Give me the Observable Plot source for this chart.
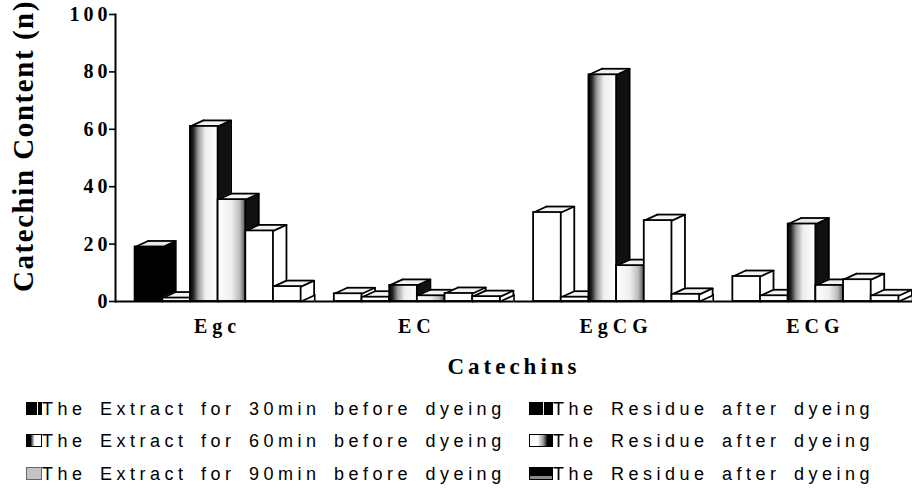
<!DOCTYPE html>
<html>
<head>
<meta charset="utf-8">
<script src="https://cdn.jsdelivr.net/npm/d3@7"></script>
<script src="https://cdn.jsdelivr.net/npm/@observablehq/plot@0.6"></script>
<style>
  html, body { margin: 0; padding: 0; background: #fff; }
  #wrap { position: relative; width: 912px; height: 493px; overflow: hidden; }
  #chart svg { display: block; background: #fff; }
  g[aria-label="y-axis tick label"] text { font-family: "Liberation Serif", serif; font-weight: bold; font-size: 20px; letter-spacing: 4px; fill: #000; }
  g[aria-label="text"] text { letter-spacing: 1.55px; }
  g[aria-label="fx-axis tick label"] text { font-family: "Liberation Serif", serif; font-weight: bold; font-size: 20px; letter-spacing: 5px; fill: #000; }
  g[aria-label="fx-axis label"] text { font-family: "Liberation Serif", serif; font-weight: bold; font-size: 23px; letter-spacing: 4px; fill: #000; }
  .legend { position: absolute; left: 0; top: 393px; width: 912px; font-family: "Liberation Sans", Arial, sans-serif; font-size: 18px; letter-spacing: 4.5px; word-spacing: 4px; color: #000; }
  .row { position: relative; height: 32.3px; line-height: 32.3px; white-space: nowrap; }
  .item { position: absolute; top: 0; }
  .sw { display: inline-block; height: 13px; vertical-align: baseline; margin-right: 0; box-sizing: border-box; }
</style>
</head>
<body>
<div id="wrap">
  <div id="chart"></div>
  <div class="legend" id="legend"></div>
</div>
<script>
// ---- data ----
const categories = ["Egc", "EC", "EgCG", "ECG"];
const seriesKeys = ["E30", "R30", "E60", "R60", "E90", "R90"];
const seriesLabels = [
  "The Extract for 30min before dyeing",
  "The Residue after dyeing",
  "The Extract for 60min before dyeing",
  "The Residue after dyeing",
  "The Extract for 90min before dyeing",
  "The Residue after dyeing"
];
const extract30 = [19, 2.7, 31, 8.7];
const residue30 = [1.2, 1.5, 1.5, 2];
const extract60 = [61, 5.6, 79, 27];
const residue60 = [35.5, 2, 12.5, 5.6];
const extract90 = [24.6, 2.8, 28.2, 7.6];
const residue90 = [5.2, 1.7, 2.5, 2];
const yTicks = [0, 20, 40, 60, 80, 100];
const xLabel = "Catechins";
const yLabel = "Catechin Content (n)";

const seriesValues = [extract30, residue30, extract60, residue60, extract90, residue90];
const rows = [];
categories.forEach((c, i) => {
  seriesKeys.forEach((s, j) => rows.push({cat: c, series: s, value: seriesValues[j][i]}));
});

// ---- styling ----
const W = 912, H = 385, mL = 115, mR = 0, mT = 14, mB = 84;
const depthX = 13, depthY = 6;
const padOuter = 0.6, alignX = 0.59;
const facetW = (W - mL - mR) / categories.length;
const bw = facetW / (seriesKeys.length + 2 * padOuter);
const frontFill = {E30: "#fff", R30: "#fff", E60: "url(#gE60)", R60: "url(#gR60)", E90: "#fff", R90: "#fff"};
const sideFill  = {E30: "#fff", R30: "#fff", E60: "#111", R60: "#111", E90: "#fff", R90: "#fff"};
const solidBars = new Set(["Egc|E30"]); // drawn solid black in the reference
const fFront = d => solidBars.has(d.cat + "|" + d.series) ? "#000" : frontFill[d.series];
const fSide = d => solidBars.has(d.cat + "|" + d.series) ? "#000" : sideFill[d.series];
const stroke = "#000", sw = 1.8, steps = 6;
const edgeShape = {draw(ctx, l) { ctx.moveTo(0, 0); ctx.lineTo(0, -l); }};
const diagAngle = Math.atan2(depthX, depthY) * 180 / Math.PI;
const diagLen = Math.hypot(depthX, depthY);

const marks = [];
for (const s of seriesKeys) {
  const filter = d => d.series === s;
  const base = {filter, fx: "cat", x: "series"};
  for (let k = steps; k >= 0; k--)
    marks.push(Plot.barY(rows, {...base, y: "value", fill: fSide, dx: depthX * k / steps, dy: -depthY * k / steps}));
  for (let k = 0; k <= steps; k++)
    marks.push(Plot.tickY(rows, {...base, y: "value", stroke: "#f3f3f3", strokeWidth: 1.6, dx: depthX * k / steps, dy: -depthY * k / steps}));
  marks.push(Plot.tickY(rows, {...base, y: "value", stroke, strokeWidth: sw, dx: depthX, dy: -depthY}));
  marks.push(Plot.ruleX(rows, {...base, y1: () => 0, y2: "value", stroke, strokeWidth: sw, dx: bw / 2 + depthX, dy: -depthY}));
  marks.push(Plot.vector(rows, {...base, y: "value", length: diagLen, rotate: diagAngle, anchor: "start", shape: edgeShape, stroke, strokeWidth: sw, dx: -bw / 2}));
  marks.push(Plot.vector(rows, {...base, y: "value", length: diagLen, rotate: diagAngle, anchor: "start", shape: edgeShape, stroke, strokeWidth: sw, dx: bw / 2}));
  marks.push(Plot.vector(rows, {...base, y: () => 0, length: diagLen, rotate: diagAngle, anchor: "start", shape: edgeShape, stroke, strokeWidth: sw, dx: bw / 2}));
  marks.push(Plot.barY(rows, {...base, y: "value", fill: fFront, stroke, strokeWidth: sw}));
}

const chart = Plot.plot({
  width: W, height: H,
  marginLeft: mL, marginRight: mR, marginTop: mT, marginBottom: mB,
  fx: {domain: categories, padding: 0, round: false},
  x: {domain: seriesKeys, paddingInner: 0, paddingOuter: padOuter, align: alignX, round: false, axis: null},
  y: {domain: [0, 100]},
  color: {type: "identity"},
  marks: [
    ...marks,
    Plot.ruleY([0], {stroke: "#000", strokeWidth: 2}),
    Plot.frame({anchor: "left", facetAnchor: "left", stroke: "#000", strokeWidth: 2}),
    Plot.axisY({ticks: yTicks, tickSize: 6, tickPadding: -2, tickFormat: d => String(d), strokeWidth: 1.6, label: null}),
    Plot.text([yLabel], {text: d => d, frameAnchor: "left", facetAnchor: "left", textAnchor: "middle", lineAnchor: "middle",
      rotate: -90, dx: -92, dy: -12, fontFamily: "Liberation Serif", fontWeight: "bold", fontSize: 29, fill: "#000"}),
    Plot.axisFx({anchor: "bottom", tickSize: 0, tickPadding: 17, dx: 2.5, label: xLabel, labelAnchor: "center", labelOffset: 72, labelArrow: false}),
    Plot.axisFx({anchor: "bottom", tickSize: 7, dy: -7, dx: facetW / 2, tickFormat: () => "", label: null, strokeWidth: 1.6})
  ]
});

const defs = d3.select(chart).insert("defs", ":first-child");
const g1 = defs.append("linearGradient").attr("id", "gE60");
[[0, "#000"], [0.12, "#222"], [0.3, "#999"], [0.55, "#eee"], [1, "#fff"]].forEach(([o, c]) => g1.append("stop").attr("offset", o).attr("stop-color", c));
const g2 = defs.append("linearGradient").attr("id", "gR60");
[[0, "#fff"], [0.5, "#eee"], [0.8, "#bbb"], [1, "#555"]].forEach(([o, c]) => g2.append("stop").attr("offset", o).attr("stop-color", c));

document.getElementById("chart").appendChild(chart);

// ---- legend (HTML, 3 rows x 2 columns) ----
const swatchStyles = [
  "width:16px;background:linear-gradient(to right,#000 0 68%,#fff 68% 76%,#000 76%);",
  "width:24px;background:linear-gradient(to right,#000 0 60%,#eee 60% 64%,#000 64%);",
  "width:16px;border:1.5px solid #000;background:linear-gradient(to right,#000 0 25%,#777 38%,#fff 55%);",
  "width:24px;border:1.5px solid #000;background:linear-gradient(to right,#fff 0 35%,#999 60%,#000 80%);",
  "width:16px;border:1px solid #666;background:#c4c4c4;",
  "width:24px;border:1.5px solid #000;background:linear-gradient(to bottom,#000 0 75%,#888 75%);"
];
const leftX = [26, 529];
const legend = d3.select("#legend");
for (let r = 0; r < 3; r++) {
  const row = legend.append("div").attr("class", "row");
  for (let c = 0; c < 2; c++) {
    const idx = r * 2 + c;
    const item = row.append("span").attr("class", "item").style("left", leftX[c] + "px");
    item.append("span").attr("class", "sw").attr("style", swatchStyles[idx]);
    item.append("span").text(seriesLabels[idx]);
  }
}
</script>
</body>
</html>
